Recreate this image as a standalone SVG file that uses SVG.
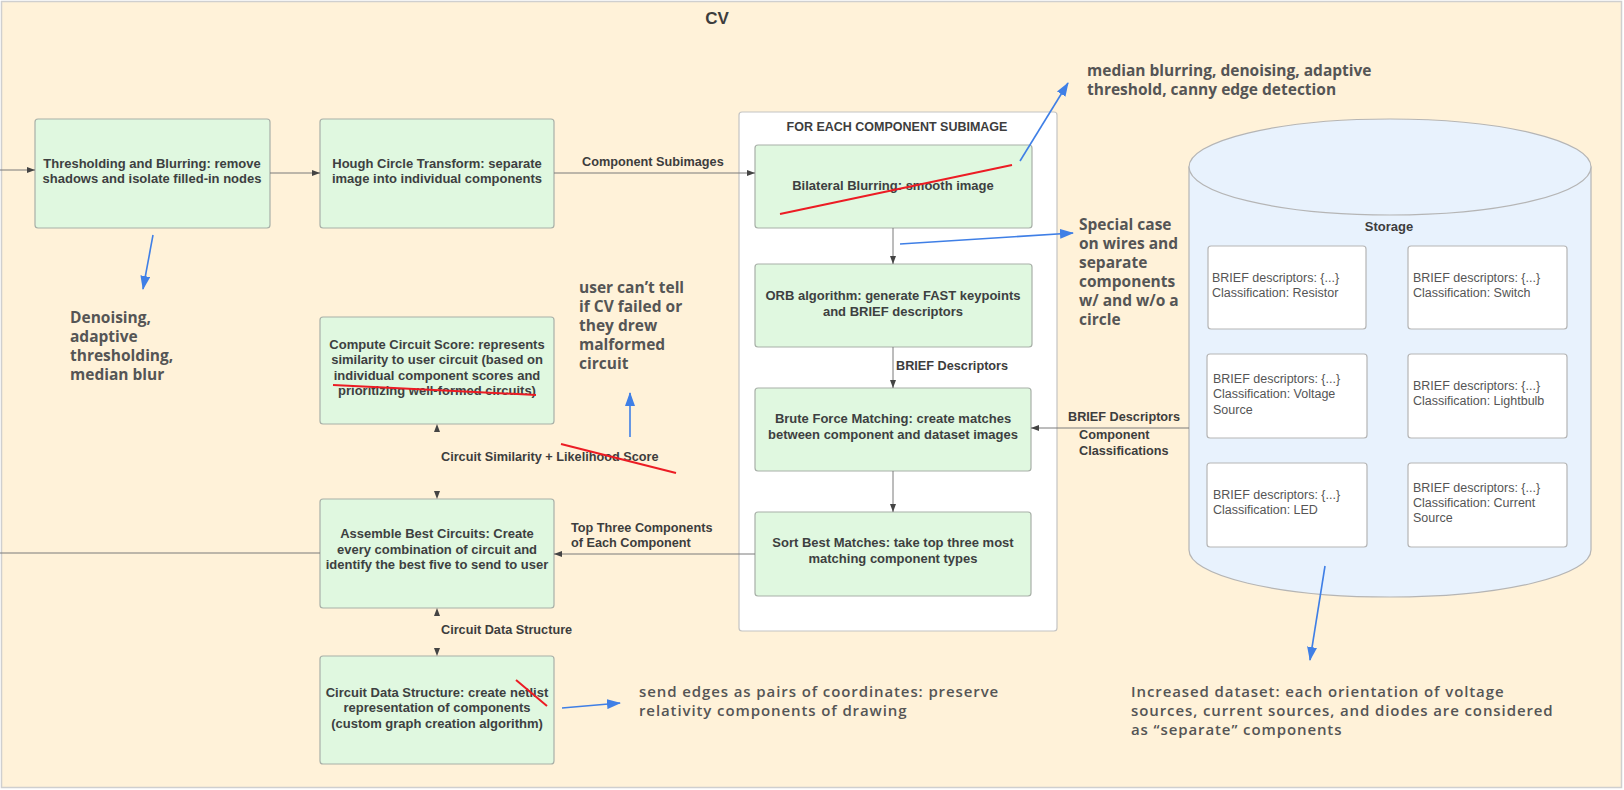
<svg xmlns="http://www.w3.org/2000/svg" width="1624" height="790" viewBox="0 0 1624 790">
<defs>
<style>
.node{fill:#e0f8e0;stroke:#a8b0a8;stroke-width:1.2}
.nt{font-family:"Liberation Sans",Arial,sans-serif;font-weight:bold;font-size:13px;fill:#3d4040;text-anchor:middle}
.lbl{font-family:"Liberation Sans",Arial,sans-serif;font-weight:bold;font-size:12.7px;fill:#3d3d3d}
.st{font-family:"Liberation Sans",Arial,sans-serif;font-size:12.5px;fill:#555}
.ann{font-family:"Open Sans","Noto Sans",sans-serif;font-weight:700;font-size:15.5px;fill:#555}
.ann2{font-family:"Open Sans","Noto Sans",sans-serif;font-weight:600;font-size:15px;letter-spacing:0.9px;fill:#555}
.con{fill:none;stroke:#7a7a7a;stroke-width:1}
.blue{fill:none;stroke:#3f7fe6;stroke-width:1.6}
.red{fill:none;stroke:#ec1c24;stroke-width:2}
.sbox{fill:#fff;stroke:#b5b5b5;stroke-width:1.2}
</style>
<marker id="ah" viewBox="0 0 8 6" refX="8" refY="3" markerWidth="8" markerHeight="6" markerUnits="userSpaceOnUse" orient="auto-start-reverse"><path d="M0,0 L8,3 L0,6 Z" fill="#444"/></marker>
<marker id="bh" viewBox="0 0 14 10" refX="13" refY="5" markerWidth="14" markerHeight="10" markerUnits="userSpaceOnUse" orient="auto"><path d="M0,0 L14,5 L0,10 Z" fill="#3f7fe6"/></marker>
</defs>

<rect x="1.5" y="1.5" width="1620" height="786" fill="#fff2d9" stroke="#cfcfcf" stroke-width="1.5"/>
<text x="717" y="24" font-family="'Liberation Sans',Arial,sans-serif" font-weight="bold" font-size="17" fill="#3d3d3d" text-anchor="middle">CV</text>

<g id="subimage-container">
<rect x="739" y="112" width="318" height="519" rx="3" fill="#fff" stroke="#c4c4c4" stroke-width="1.2"/>
<text x="897" y="131" font-family="'Liberation Sans',Arial,sans-serif" font-weight="bold" font-size="12.5" fill="#3d3d3d" text-anchor="middle">FOR EACH COMPONENT SUBIMAGE</text>
</g>

<g id="storage">
<path d="M1189,167 L1189,550 A201,47 0 0 0 1591,550 L1591,167 Z" fill="#e8f2fd" stroke="#b5b5b5" stroke-width="1.2"/>
<ellipse cx="1390" cy="167" rx="201" ry="48" fill="#e8f2fd" stroke="#b5b5b5" stroke-width="1.2"/>
<text x="1389" y="231" font-family="'Liberation Sans',Arial,sans-serif" font-weight="bold" font-size="13" fill="#3d3d3d" text-anchor="middle">Storage</text>
</g>
<g id="s-resistor"><rect class="sbox" x="1208" y="246" width="158" height="83" rx="3"/><text class="st" x="1212" y="282">BRIEF descriptors: {...}</text><text class="st" x="1212" y="297">Classification: Resistor</text></g>
<g id="s-switch"><rect class="sbox" x="1408" y="246" width="159" height="83" rx="3"/><text class="st" x="1413" y="282">BRIEF descriptors: {...}</text><text class="st" x="1413" y="297">Classification: Switch</text></g>
<g id="s-voltage"><rect class="sbox" x="1207" y="354" width="160" height="84" rx="3"/><text class="st" x="1213" y="383">BRIEF descriptors: {...}</text><text class="st" x="1213" y="398">Classification: Voltage</text><text class="st" x="1213" y="414">Source</text></g>
<g id="s-lightbulb"><rect class="sbox" x="1408" y="354" width="159" height="84" rx="3"/><text class="st" x="1413" y="390">BRIEF descriptors: {...}</text><text class="st" x="1413" y="405">Classification: Lightbulb</text></g>
<g id="s-led"><rect class="sbox" x="1207" y="463" width="160" height="84" rx="3"/><text class="st" x="1213" y="499">BRIEF descriptors: {...}</text><text class="st" x="1213" y="514">Classification: LED</text></g>
<g id="s-current"><rect class="sbox" x="1408" y="463" width="159" height="84" rx="3"/><text class="st" x="1413" y="492">BRIEF descriptors: {...}</text><text class="st" x="1413" y="507">Classification: Current</text><text class="st" x="1413" y="522">Source</text></g>

<g id="thresholding"><rect class="node" x="35" y="119" width="235" height="109" rx="3"/><text class="nt" x="152" y="168">Thresholding and Blurring: remove</text><text class="nt" x="152" y="183">shadows and isolate filled-in nodes</text></g>
<g id="hough"><rect class="node" x="320" y="119" width="234" height="109" rx="3"/><text class="nt" x="437" y="168">Hough Circle Transform: separate</text><text class="nt" x="437" y="183">image into individual components</text></g>
<g id="bilateral"><rect class="node" x="755" y="145" width="277" height="83" rx="3"/><text class="nt" x="893" y="190">Bilateral Blurring: smooth image</text></g>
<g id="orb"><rect class="node" x="755" y="264" width="277" height="83" rx="3"/><text class="nt" x="893" y="300">ORB algorithm: generate FAST keypoints</text><text class="nt" x="893" y="316">and BRIEF descriptors</text></g>
<g id="brute"><rect class="node" x="755" y="388" width="276" height="83" rx="3"/><text class="nt" x="893" y="423">Brute Force Matching: create matches</text><text class="nt" x="893" y="439">between component and dataset images</text></g>
<g id="sort"><rect class="node" x="755" y="512" width="276" height="84" rx="3"/><text class="nt" x="893" y="547">Sort Best Matches: take top three most</text><text class="nt" x="893" y="563">matching component types</text></g>
<g id="compute"><rect class="node" x="320" y="317" width="234" height="107" rx="3"/><text class="nt" x="437" y="349">Compute Circuit Score: represents</text><text class="nt" x="437" y="364">similarity to user circuit (based on</text><text class="nt" x="437" y="380">individual component scores and</text><text class="nt" x="437" y="395">prioritizing well-formed circuits)</text></g>
<g id="assemble"><rect class="node" x="320" y="499" width="234" height="109" rx="3"/><text class="nt" x="437" y="538">Assemble Best Circuits: Create</text><text class="nt" x="437" y="554">every combination of circuit and</text><text class="nt" x="437" y="569">identify the best five to send to user</text></g>
<g id="datastructure"><rect class="node" x="320" y="656" width="234" height="108" rx="3"/><text class="nt" x="437" y="697">Circuit Data Structure: create netlist</text><text class="nt" x="437" y="712">representation of components</text><text class="nt" x="437" y="728">(custom graph creation algorithm)</text></g>

<g id="connectors">
<path class="con" d="M0,170 L35,170" marker-end="url(#ah)"/>
<path class="con" d="M270,173 L320,173" marker-end="url(#ah)"/>
<path class="con" d="M554,173 L755,173" marker-end="url(#ah)"/>
<text class="lbl" x="582" y="166">Component Subimages</text>
<path class="con" d="M893,228 L893,264" marker-end="url(#ah)"/>
<path class="con" d="M893,347 L893,388" marker-end="url(#ah)"/>
<text class="lbl" x="896" y="370">BRIEF Descriptors</text>
<path class="con" d="M893,471 L893,512" marker-end="url(#ah)"/>
<path class="con" d="M1189,428 L1031,428" marker-end="url(#ah)"/>
<text class="lbl" x="1068" y="421">BRIEF Descriptors</text>
<text class="lbl" x="1079" y="439">Component</text>
<text class="lbl" x="1079" y="455">Classifications</text>
<path class="con" d="M755,554 L554,554" marker-end="url(#ah)"/>
<text class="lbl" x="571" y="532">Top Three Components</text>
<text class="lbl" x="571" y="547">of Each Component</text>
<path class="con" d="M320,553 L0,553"/>
<path d="M437,424 L437,499" fill="none" stroke="#7a7a7a" stroke-opacity="0" marker-start="url(#ah)" marker-end="url(#ah)"/>
<text class="lbl" x="441" y="461">Circuit Similarity + Likelihood Score</text>
<path d="M437,608 L437,656" fill="none" stroke="#7a7a7a" stroke-opacity="0" marker-start="url(#ah)" marker-end="url(#ah)"/>
<text class="lbl" x="441" y="634">Circuit Data Structure</text>
</g>

<g id="annotations">
<path class="red" d="M780,214 L1012,165"/>
<path class="red" d="M333,385 L536,395"/>
<path class="red" d="M561,444 L676,473"/>
<path class="red" d="M516,680 L547,706"/>
<path class="blue" d="M153,235 L143,289" marker-end="url(#bh)"/>
<path class="blue" d="M1020,161 L1068,83" marker-end="url(#bh)"/>
<path class="blue" d="M900,244 L1073,233" marker-end="url(#bh)"/>
<path class="blue" d="M630,437 L630,393" marker-end="url(#bh)"/>
<path class="blue" d="M1325,566 L1310,660" marker-end="url(#bh)"/>
<path class="blue" d="M562,708 L620,703" marker-end="url(#bh)"/>
<text class="ann" x="1087" y="76">median blurring, denoising, adaptive</text>
<text class="ann" x="1087" y="95">threshold, canny edge detection</text>
<text class="ann" x="1079" y="230">Special case</text>
<text class="ann" x="1079" y="249">on wires and</text>
<text class="ann" x="1079" y="268">separate</text>
<text class="ann" x="1079" y="287">components</text>
<text class="ann" x="1079" y="306">w/ and w/o a</text>
<text class="ann" x="1079" y="325">circle</text>
<text class="ann" x="70" y="323">Denoising,</text>
<text class="ann" x="70" y="342">adaptive</text>
<text class="ann" x="70" y="361">thresholding,</text>
<text class="ann" x="70" y="380">median blur</text>
<text class="ann" x="579" y="293">user can’t tell</text>
<text class="ann" x="579" y="312">if CV failed or</text>
<text class="ann" x="579" y="331">they drew</text>
<text class="ann" x="579" y="350">malformed</text>
<text class="ann" x="579" y="369">circuit</text>
<text class="ann2" x="639" y="697">send edges as pairs of coordinates: preserve</text>
<text class="ann2" x="639" y="716">relativity components of drawing</text>
<text class="ann2" x="1131" y="697">Increased dataset: each orientation of voltage</text>
<text class="ann2" x="1131" y="716">sources, current sources, and diodes are considered</text>
<text class="ann2" x="1131" y="735">as “separate” components</text>
</g>
</svg>
